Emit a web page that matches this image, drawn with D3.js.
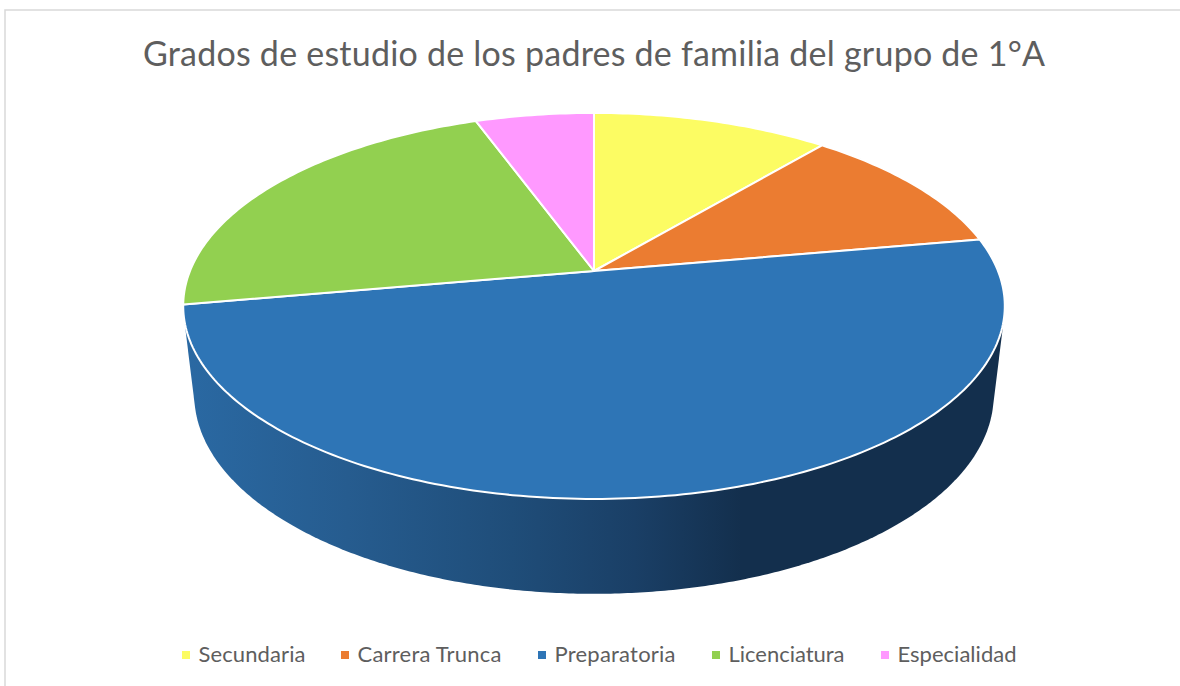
<html>
<head>
<meta charset="utf-8">
<script src="https://d3js.org/d3.v7.min.js"></script>
<style>
body { margin: 0; background: white; overflow: hidden; }
text { font-family: Lato, "Open Sans", sans-serif; fill: #5E5E5E; }
</style>
</head>
<body>
<svg width="1180" height="686"></svg>
<script>
// values (number of parents per level)
var categories = ["Secundaria", "Carrera Trunca", "Preparatoria", "Licenciatura", "Especialidad"];
var values = [2, 2, 9, 4, 1];
var colors = ["#FCFC63", "#EB7C31", "#2E75B6", "#92D050", "#FF99FF"];
var title = "Grados de estudio de los padres de familia del grupo de 1°A";

// legend layout: marker x, text width
var legendX = [182, 341, 538, 712, 881];
var legendW = [107, 144, 121, 116, 119];

var svg = d3.select("svg");

// chart frame
svg.append("rect")
    .attr("x", 5).attr("y", 10)
    .attr("width", 1200).attr("height", 700)
    .attr("fill", "white")
    .attr("stroke", "#d9d9d9")
    .attr("stroke-width", 1.5);

svg.append("text")
    .text(title)
    .attr("x", 143).attr("y", 66)
    .attr("font-size", 34)
    .attr("textLength", 902)
    .attr("lengthAdjust", "spacing");

// tilted pie: a circle seen in perspective, so the centre sits above the ellipse centre
var cx = 594, cy = 271, rx = 404, ry = 186.7, k = -0.181;

function project(angle, sx, sy, dy) {
    var u = Math.sin(angle), v = -Math.cos(angle);
    var w = 1 + k * v;
    return [cx + sx * rx * u / w, cy + dy + sy * ry * v / w];
}

var pie = d3.pie().sort(null);
var arcs = pie(values);
var line = d3.line();

function slicePath(d) {
    var steps = Math.ceil((d.endAngle - d.startAngle) * 60);
    var pts = d3.range(steps + 1).map(function(i) {
        return project(d.startAngle + (d.endAngle - d.startAngle) * i / steps, 1, 1, 0);
    });
    return line([[cx, cy]].concat(pts)) + "Z";
}

// side wall, silhouette of the top and bottom rims
var rim = [];
d3.range(720).forEach(function(i) {
    var a = i * Math.PI / 360;
    rim.push(project(a, 1, 1, 0));
    rim.push(project(a, 0.973, 1.03, 88));
});
var hull = d3.polygonHull(rim);

var grad = svg.append("defs").append("linearGradient")
    .attr("id", "wall")
    .attr("gradientUnits", "userSpaceOnUse")
    .attr("x1", 183).attr("x2", 1005).attr("y1", 0).attr("y2", 0);
grad.selectAll("stop")
    .data([[0, "#2A69A3"], [0.2, "#265C8F"], [0.4, "#1F4D79"], [0.55, "#1A3F66"], [0.68, "#132F4D"], [1, "#132F4D"]])
    .enter().append("stop")
    .attr("offset", function(d) { return d[0]; })
    .attr("stop-color", function(d) { return d[1]; });

svg.append("path")
    .attr("d", line(hull) + "Z")
    .attr("fill", "url(#wall)");

svg.append("g").selectAll("path")
    .data(arcs)
    .enter().append("path")
    .attr("d", slicePath)
    .attr("fill", function(d, i) { return colors[i]; })
    .attr("stroke", "white")
    .attr("stroke-width", 2)
    .attr("stroke-linejoin", "round");

// legend
var legend = svg.append("g").selectAll("g")
    .data(categories)
    .enter().append("g")
    .attr("transform", function(d, i) { return "translate(" + legendX[i] + ",0)"; });

legend.append("rect")
    .attr("x", 0).attr("y", 651)
    .attr("width", 8).attr("height", 8)
    .attr("fill", function(d, i) { return colors[i]; });

legend.append("text")
    .text(function(d) { return d; })
    .attr("x", 16.5).attr("y", 662)
    .attr("font-size", 22)
    .attr("textLength", function(d, i) { return legendW[i]; })
    .attr("lengthAdjust", "spacing");
</script>
</body>
</html>
